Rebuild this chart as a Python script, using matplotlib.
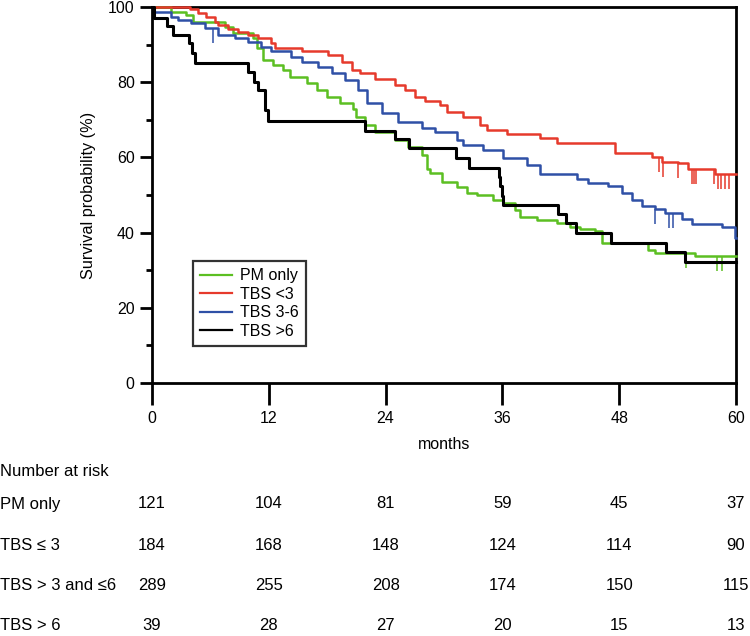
import numpy as np
import matplotlib
matplotlib.use("Agg")
import matplotlib.pyplot as plt
import matplotlib.transforms as mtransforms

plt.rcParams['font.family'] = ['Liberation Sans', 'DejaVu Sans']

# Kaplan-Meier step points (months, survival %)
pm_t = [0, 1.95, 3.5, 4.2, 7.5, 8.3, 10.4, 10.8, 11.4, 12.4, 13.5, 14.2, 15.9, 17.0, 18.0,
        19.3, 20.7, 21.0, 21.9, 22.9, 25.0, 26.3, 27.7, 28.3, 28.6, 29.8, 31.3, 32.4, 33.4,
        35.0, 36.1, 37.3, 37.8, 39.6, 41.6, 42.9, 44.0, 45.5, 46.2, 51.0, 51.7, 55.8]
pm_s = [100, 98.8, 97.9, 96.1, 94.7, 93.1, 91.8, 89.1, 85.9, 84.6, 83.2, 81.4, 79.8, 77.9, 76.1,
        74.5, 72.9, 70.7, 68.6, 66.8, 64.6, 62.8, 60.6, 57.0, 55.9, 53.5, 52.1, 50.5, 50.0,
        48.7, 47.9, 46.0, 44.1, 43.4, 42.6, 41.5, 41.0, 40.4, 37.2, 35.4, 34.7, 33.8]
pm_cens = [54.9, 58.0, 58.6]

low_t = [0, 3.9, 4.7, 5.5, 6.5, 6.8, 7.8, 8.8, 9.9, 10.9, 12.2, 12.6, 15.4, 18.1, 19.5, 20.5,
         21.4, 22.9, 25.0, 26.0, 27.0, 28.0, 29.6, 30.3, 32.0, 33.7, 34.4, 36.5, 39.9, 41.6,
         47.6, 51.4, 52.4, 54.0, 55.1, 57.8]
low_s = [100, 99.4, 98.5, 97.3, 96.1, 95.2, 94.1, 93.4, 92.6, 91.8, 90.4, 89.2, 88.3, 87.2,
         85.4, 83.2, 82.4, 80.8, 79.3, 77.9, 76.1, 75.0, 74.0, 72.1, 70.7, 68.6, 67.3, 66.2,
         65.2, 63.8, 61.2, 60.1, 58.8, 58.5, 57.0, 55.6]
low_cens = [52.1, 52.5, 54.0, 55.5, 55.7, 55.9, 57.7, 58.1, 58.5, 58.9, 59.3]

mid_t = [0, 0.2, 2.0, 2.7, 4.0, 5.4, 6.8, 8.5, 9.9, 11.2, 12.2, 14.3, 15.4, 17.1, 18.5, 19.8,
         21.2, 22.1, 23.6, 25.3, 27.7, 29.1, 31.3, 32.0, 34.0, 36.1, 38.5, 39.9, 43.7, 44.8,
         46.9, 48.3, 49.3, 50.3, 51.7, 52.7, 54.5, 55.5, 58.6, 59.9]
mid_s = [100, 98.8, 97.3, 96.5, 95.7, 94.4, 92.6, 91.8, 90.6, 89.4, 88.3, 86.7, 85.4, 84.0,
         82.4, 80.6, 77.9, 74.5, 71.8, 69.4, 67.8, 66.8, 64.6, 63.3, 62.0, 59.8, 58.0, 55.6,
         54.3, 53.2, 52.4, 50.5, 48.7, 47.1, 46.3, 45.2, 43.6, 42.3, 41.5, 38.5]
mid_cens = [6.3, 51.7, 53.1, 53.5]

high_t = [0, 0.2, 1.5, 2.2, 3.8, 4.1, 4.4, 9.9, 10.5, 10.9, 11.6, 11.9, 21.9, 25.0, 26.4,
          31.2, 32.6, 35.6, 35.8, 36.0, 36.1, 41.7, 42.5, 43.6, 47.2, 52.8, 54.8]
high_s = [100, 97.1, 94.9, 92.6, 90.3, 87.7, 85.2, 82.8, 80.1, 77.9, 72.6, 69.8, 66.9, 64.8,
          62.4, 59.8, 57.3, 54.8, 52.3, 49.8, 47.3, 44.9, 42.5, 40.0, 37.3, 34.9, 32.3]
high_cens = []

legend_labels = ["PM only", "TBS <3", "TBS 3-6", "TBS >6"]
colors = ["#5cbf22", "#e63a2c", "#2f50a6", "#000000"]

risk_times = [0, 12, 24, 36, 48, 60]
risk_labels = ["PM only", "TBS \u2264 3", "TBS > 3 and \u22646", "TBS > 6"]
risk_pm = [121, 104, 81, 59, 45, 37]
risk_low = [184, 168, 148, 124, 114, 90]
risk_mid = [289, 255, 208, 174, 150, 115]
risk_high = [39, 28, 27, 20, 15, 13]

fig = plt.figure(figsize=(7.5, 6.36), dpi=100)
ax = fig.add_axes([152 / 750, 1 - 383 / 636, (736 - 152) / 750, (383 - 7) / 636])

series = [(pm_t, pm_s, pm_cens), (mid_t, mid_s, mid_cens),
          (low_t, low_s, low_cens), (high_t, high_s, high_cens)]
handles = [None] * 4
for idx, (t, s, cens) in zip([0, 2, 1, 3], series):
    t = list(t) + [60]
    s = list(s) + [s[-1]]
    lw = 2.2 if idx == 3 else 1.8
    ln, = ax.step(t, s, where='post', color=colors[idx], lw=lw, clip_on=False, zorder=3 + idx)
    handles[idx] = ln
    if cens:
        pos = np.searchsorted(t, cens, side='right') - 1
        sv = np.array(s)[pos]
        ax.vlines(cens, sv - 4.0, sv, color=colors[idx], lw=1.1, zorder=3 + idx)

ax.set_xlim(0, 60)
ax.set_ylim(0, 100)
ax.set_xticks(risk_times)
ax.set_yticks(range(0, 101, 20))
ax.set_yticks(range(10, 100, 20), minor=True)
for sp in ax.spines.values():
    sp.set_linewidth(2.0)
ax.tick_params(axis='x', direction='out', length=16, width=2.0, pad=4, labelsize=11.5)
ax.tick_params(axis='y', which='major', direction='out', length=8.5, width=2.0, pad=4, labelsize=11.5)
ax.tick_params(axis='y', which='minor', direction='out', length=4.5, width=2.0)
ax.set_xlabel("months", fontsize=11.5, labelpad=8)
ax.set_ylabel("Survival probability (%)", fontsize=11.7, labelpad=9)

leg = ax.legend(handles, legend_labels, loc='upper left', bbox_to_anchor=(0.07, 0.324),
                frameon=True, fancybox=False, fontsize=11.5, handlelength=2.0,
                handletextpad=0.5, labelspacing=0.22, borderpad=0.45, borderaxespad=0)
leg.get_frame().set_edgecolor('black')
leg.get_frame().set_linewidth(1.6)
for h in leg.get_lines():
    h.set_linewidth(1.6)

# number at risk table
narrow = ['Liberation Sans Narrow', 'Liberation Sans', 'DejaVu Sans']
trans = mtransforms.blended_transform_factory(ax.transData, fig.transFigure)
fig.text(0.0, 1 - 472 / 636, "Number at risk", fontsize=12, family=narrow, va='center', ha='left')
rows_y = [504, 545, 585, 625]
for lab, vals, yy in zip(risk_labels, [risk_pm, risk_low, risk_mid, risk_high], rows_y):
    fig.text(0.0, 1 - yy / 636, lab, fontsize=12, family=narrow, va='center', ha='left')
    for tt, v in zip(risk_times, vals):
        fig.text(tt, 1 - yy / 636, str(v), fontsize=12, family=narrow, va='center',
                 ha='center', transform=trans)

fig.savefig("out.png", dpi=100)
